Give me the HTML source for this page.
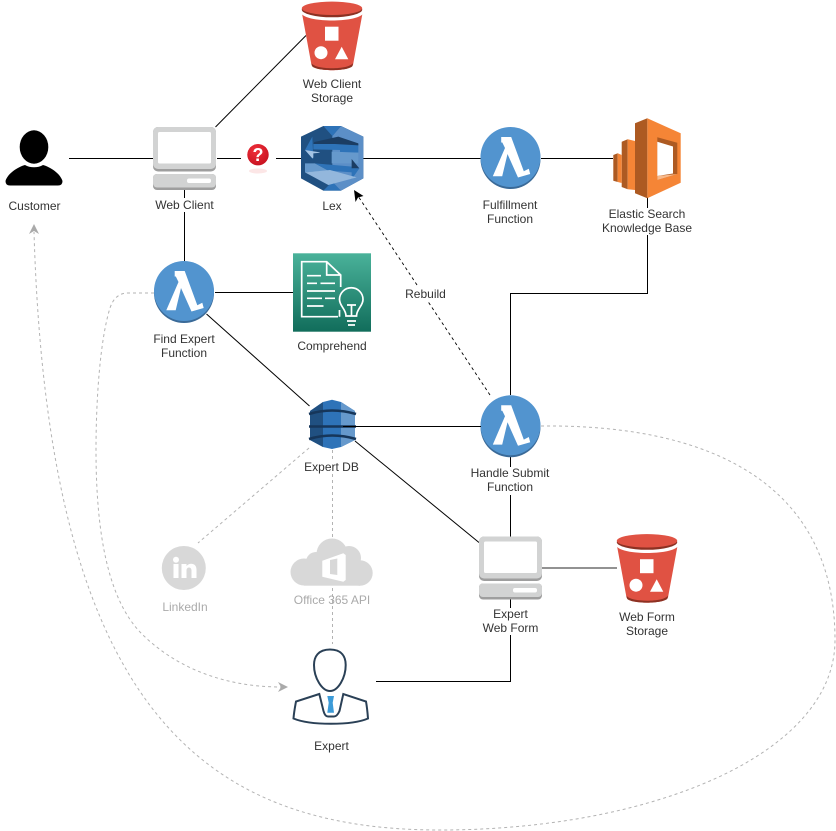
<!DOCTYPE html>
<html><head><meta charset="utf-8"><style>
html,body{margin:0;padding:0;background:#fff}
svg{display:block}
text{font-family:"Liberation Sans",sans-serif;font-size:12px;fill:#333;text-anchor:middle}
.l{fill:none;stroke:#000;stroke-width:1}
.g{fill:none;stroke:#b3b3b3;stroke-width:1;stroke-dasharray:3 3}
.gt{fill:#aaa}
</style></head><body>
<svg width="836" height="831" viewBox="0 0 836 831" xmlns="http://www.w3.org/2000/svg">
<defs>
<linearGradient id="cg" x1="0" y1="0" x2="0" y2="1"><stop offset="0" stop-color="#4AB29A"/><stop offset="1" stop-color="#116D5B"/></linearGradient>
<radialGradient id="qg" cx=".4" cy=".3" r=".8"><stop offset="0" stop-color="#F0303A"/><stop offset="1" stop-color="#C40F1E"/></radialGradient>
<g id="lam">
<ellipse cx="30" cy="32" rx="30" ry="30" fill="#3A6A98"/>
<circle cx="30" cy="30" r="30" fill="#5294CF"/>
<polygon points="20.7,10 30.7,10 43.3,44.3 48.3,41.7 49.7,47 37.5,50.5 27,27 21.7,49.3 12.3,49.3 24.5,21 21.8,15.5 20.7,15.5" fill="#fff"/>
</g>
<g id="pc">
<rect x="153" y="127" width="63" height="44.5" rx="5" fill="#9E9E9E"/>
<rect x="153" y="127" width="63" height="42" rx="5" fill="#D2D3D3"/>
<rect x="158" y="132" width="53" height="31.5" rx="1.5" fill="#fff"/>
<rect x="153" y="174" width="63" height="16" rx="4" fill="#9E9E9E"/>
<rect x="153" y="174" width="63" height="13.5" rx="4" fill="#D2D3D3"/>
<rect x="187" y="178.5" width="24" height="4.5" rx="2" fill="#fff"/>
</g>
<g id="s3">
<path d="M302.2 14.5C310 22.5 354 22.5 362.3 14.5L353 65C349 72 315 72 311.5 65Z" fill="#E05243"/>
<path d="M311.5 63C315 70 349 70 353 63L352.5 66C349 71.5 315 71.5 312 66Z" fill="#8C3123"/>
<ellipse cx="332" cy="9.6" rx="30.2" ry="7.7" fill="#8C3123"/>
<ellipse cx="332" cy="8.3" rx="30.2" ry="6.7" fill="#E05243"/>
<rect x="325" y="26.7" width="13.5" height="14" fill="#fff"/>
<circle cx="321" cy="52.7" r="6.5" fill="#fff"/>
<polygon points="341.7,46.7 348.3,59.3 335,59.3" fill="#fff"/>
</g>
</defs>

<!-- connectors -->
<path class="l" d="M69 158.5H153M217 158.5H241M276 158.5H301M363 158.5H481M541 158.5H613"/>
<path class="l" d="M215.5 127L306 35.5" stroke-width=".8"/>
<path class="l" d="M184.5 190V261"/>
<path class="l" d="M215 292.5H293"/>
<path class="l" d="M206.5 314L309.5 406"/>
<path class="l" d="M355 441L479 542.5"/>
<path class="l" d="M510.5 395V293.5H647.5V197"/>
<path class="l" d="M510.5 457V537"/>
<path d="M541 568H617" fill="none" stroke="#6e6e6e" stroke-width="1.6"/>
<path class="l" d="M376 681.5H510.5V599"/>

<!-- grey dashed -->
<path class="g" d="M309 448L198 543"/>
<path class="g" d="M332.5 450V644"/>
<path class="g" d="M154 293H128Q115 293 110 308C100 340 96 400 96 450C96 540 110 600 140 632C175 668 225 687 281 687"/>
<polygon points="288,687 278,682 281,687 278,692" fill="#aaa"/>
<path class="g" d="M541 426C720 424 835 490 835 640C835 755 650 830 440 830C200 830 48 705 34 232"/>
<polygon points="34,224 29,234 34,231 39,234" fill="#aaa"/>

<!-- Rebuild dashed -->
<path d="M490 395L358 196" fill="none" stroke="#000" stroke-width=".9" stroke-dasharray="3 3"/>
<polygon points="354,190 363.5,196 358,197.5 355.5,202" fill="#000"/>

<!-- Customer -->
<ellipse cx="34" cy="147" rx="14.3" ry="16.7" fill="#000"/>
<path d="M5.5 181C8 173 18 167 25 165C30 168 38 168 43 165C50 167 60 173 62.5 181Q62.5 185.5 58 185.5H10Q5.5 185.5 5.5 181Z" fill="#000"/>

<!-- Computers -->
<use href="#pc"/>
<use href="#pc" transform="translate(326,409.5)"/>

<!-- Buckets -->
<use href="#s3"/>
<use href="#s3" transform="translate(315,532.5)"/>

<!-- Question -->
<ellipse cx="258" cy="171" rx="9" ry="2.5" fill="#F8C8C8" opacity=".45"/>
<circle cx="258" cy="154.7" r="10.7" fill="url(#qg)"/>
<text x="258" y="161" style="font-size:18px;font-weight:bold;fill:#fff">?</text>

<!-- Lex -->
<g transform="translate(295,120) scale(.33333)">
<polygon points="18,50 85,18 138,18 205,50 205,175 138,212 85,212 18,175" fill="#205081"/>
<polygon points="112,48 138,18 205,50 205,175 138,212 112,190" fill="#5C8FC7"/>
<polygon points="85,18 138,18 112,48" fill="#2E73B8"/>
<polygon points="85,212 138,212 112,185" fill="#2E73B8"/>
<polygon points="55,70 190,72 190,98 135,98 135,90 55,88" fill="#2E73B8"/>
<polygon points="58,66 130,50 190,70 190,76 120,72 55,72" fill="#1B3D63"/>
<polygon points="52,50 30,90 55,118" fill="#2E73B8"/>
<polygon points="30,90 75,97 52,115" fill="#A5C4E4"/>
<polygon points="55,100 110,95 110,130 55,130" fill="#205081"/>
<polygon points="110,95 190,98 190,130 110,130" fill="#6699CC"/>
<polygon points="30,130 60,130 100,152 30,157" fill="#6699CC"/>
<polygon points="60,130 172,140 172,157 100,152" fill="#2E73B8"/>
<polygon points="170,117 193,145 170,145" fill="#1B3D63"/>
<polygon points="170,145 193,145 170,178" fill="#2E73B8"/>
<polygon points="30,157 105,150 185,172 100,195" fill="#93B7DC"/>
</g>

<!-- Fulfillment / Find / Handle Lambdas -->
<use href="#lam" x="480.5" y="127"/>
<use href="#lam" x="154" y="261"/>
<use href="#lam" x="480.5" y="395.3"/>

<!-- Elastic Search -->
<polygon points="647.3,118.3 680.7,133.3 680.7,182.7 647.3,198.3" fill="#F58536"/>
<polygon points="647.3,118.3 635,123.3 635,193.3 647.3,198.3" fill="#AD5A22"/>
<polygon points="621.7,141.7 627.7,139.3 627.7,189.3 621.7,187" fill="#AD5A22"/>
<polygon points="627.7,139.3 635,141 635,190 627.7,189.3" fill="#F58536"/>
<polygon points="613.3,155 617.7,153.3 617.7,182 613.3,180.7" fill="#AD5A22"/>
<polygon points="617.7,153.3 621.7,155 621.7,183 617.7,182" fill="#F58536"/>
<polygon points="657.3,137.3 677.3,142.7 677.3,174 657.3,180" fill="#AD5A22"/>
<polygon points="657.3,141.7 673,146.5 673,173.5 657.3,176" fill="#fff"/>
<polygon points="657.3,176 677.3,174 657.3,180" fill="#F9B98A"/>

<!-- Comprehend -->
<rect x="293" y="253.3" width="78" height="78.4" fill="url(#cg)"/>
<g fill="none" stroke="#fff" stroke-width="1.7">
<path d="M340.7 287V275L326.7 261.7H301.7V316.7H338M326.7 261.7V275H340.7M339.5 310V316.7"/>
<path d="M307 275.7H321M307 283.3H317M320.5 283.3H335M307 291H335M307 298.3H322M325 298.3H335M307 306H323.5"/>
<path d="M346 316C346 309 339.5 306 339.5 299.5A11.7 11.7 0 0 1 363 299.5C363 306 356.5 309 356.5 316Z"/>
<path d="M347 321H356M348 325H355M351.5 305V316M347 305H356"/>
</g>

<!-- DynamoDB -->
<path d="M310 411L323 402L332 399.7L341 402L355 411V440L341 447L332 449L323 447L310 440Z" fill="#2E73B8"/>
<path d="M310 411L323 402V447L310 440Z" fill="#205081"/>
<path d="M341 402L355 411V440L341 447Z" fill="#6699CC"/>
<path d="M309 414Q332 407 356 414M309 426.5H356M309 439Q332 432 356 439" fill="none" stroke="#16365A" stroke-width="2.6"/>
<path class="l" d="M343 426.5H481"/>

<!-- LinkedIn -->
<circle cx="183.8" cy="568" r="22" fill="#D8D8D8"/>
<rect x="173.5" y="564" width="5" height="14" fill="#fff"/>
<circle cx="176" cy="559.7" r="3" fill="#fff"/>
<path d="M181.5 564H186.5V566C189 562.5 196.5 562.5 196.5 569.5V578H191.5V570.5C191.5 566.5 186.5 566.5 186.5 570.5V578H181.5Z" fill="#fff"/>

<!-- Office 365 -->
<g fill="#D8D8D8">
<circle cx="332" cy="554" r="15.5"/><circle cx="349" cy="558" r="12"/>
<circle cx="304" cy="572" r="13.5"/><circle cx="360" cy="573" r="12.7"/><circle cx="316" cy="562" r="10"/>
<rect x="304" y="565" width="56" height="20.7"/>
</g>
<polygon points="322.3,560.7 343.3,553.3 345.7,555 345.7,580 343.3,581.7 322.3,576.7" fill="#fff"/>
<polygon points="330,560 337.3,558.5 337.3,575 330,574" fill="#D8D8D8"/>

<!-- Expert -->
<g fill="none" stroke="#2A4056" stroke-width="2">
<path d="M330 649.5C318 649.5 314 657 314 665C314 678 322 691 330 691C338 691 345.7 678 345.7 665C345.7 657 342 649.5 330 649.5Z"/>
<path d="M319.3 694L296 701.5C295 707 294 712 293.5 718.5C310 725.5 352 725.5 368 718.5C367.5 712 367 707 366 701.5L343.3 694L339.5 711Q337 716.5 334 716.5H328Q325 716.5 323.5 711Z"/>
</g>
<polygon points="327.3,696 334,696 332.7,702.7 334,712.7 327.3,712.7 328.7,702.7" fill="#3C9BD8"/>

<!-- label backgrounds -->
<g fill="#fff">
<rect x="154" y="198" width="61" height="14"/>
<rect x="601" y="208" width="93" height="27"/>
<rect x="468" y="467" width="85" height="28"/>
<rect x="478" y="608" width="66" height="27"/>
<rect x="304" y="459" width="56" height="14"/>
<rect x="404" y="287" width="43" height="14"/>
</g>

<!-- labels -->
<text x="34.5" y="210">Customer</text>
<text x="184.5" y="209">Web Client</text>
<text x="332" y="210">Lex</text>
<text x="332" y="88">Web Client</text><text x="332" y="102">Storage</text>
<text x="510" y="209">Fulfillment</text><text x="510" y="223">Function</text>
<text x="647" y="218">Elastic Search</text><text x="647" y="232">Knowledge Base</text>
<text x="184" y="343">Find Expert</text><text x="184" y="357">Function</text>
<text x="332" y="350">Comprehend</text>
<text x="331.5" y="471">Expert DB</text>
<text x="425.5" y="298">Rebuild</text>
<text x="510" y="477">Handle Submit</text><text x="510" y="491">Function</text>
<text x="510.5" y="618">Expert</text><text x="510.5" y="632">Web Form</text>
<text x="647" y="621">Web Form</text><text x="647" y="635">Storage</text>
<text class="gt" x="185" y="611">LinkedIn</text>
<text class="gt" x="332" y="604">Office 365 API</text>
<text x="331.5" y="750">Expert</text>
</svg>
</body></html>
